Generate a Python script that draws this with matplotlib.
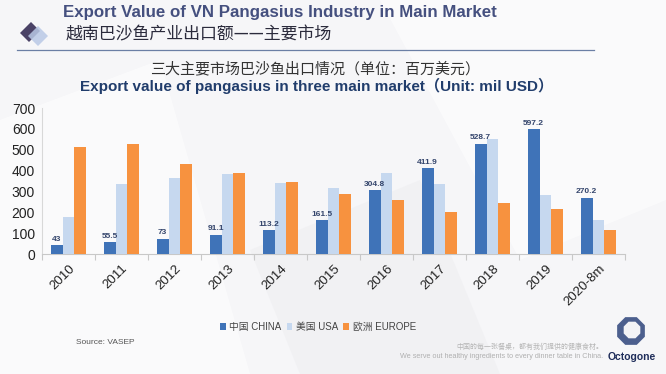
import matplotlib
matplotlib.use("Agg")
import matplotlib.pyplot as plt
import numpy as np
from matplotlib.patches import Polygon, RegularPolygon, Rectangle

plt.rcParams['font.family'] = ['Liberation Sans', 'Noto Sans CJK SC', 'DejaVu Sans']

categories = ['2010', '2011', '2012', '2013', '2014', '2015', '2016', '2017', '2018', '2019', '2020-8m']
china = [43, 55.5, 73, 91.1, 113.2, 161.5, 304.8, 411.9, 528.7, 597.2, 270.2]
usa = [179, 336, 364, 384, 340, 316, 388, 334, 550, 281, 165]
europe = [515, 529, 430, 390, 347, 287, 260, 203, 245, 214, 115]
china_labels = ['43', '55.5', '73', '91.1', '113.2', '161.5', '304.8', '411.9', '528.7', '597.2', '270.2']
yticks = [0, 100, 200, 300, 400, 500, 600, 700]
series_names = ['中国 CHINA', '美国 USA', '欧洲 EUROPE']
colors = ['#3f73b8', '#c6d8ef', '#f7923f']

W, H = 666, 374
fig = plt.figure(figsize=(W / 100, H / 100), dpi=100)
fig.patch.set_facecolor('#f6f6f8')

# faint background shapes
bg = fig.add_axes([0, 0, 1, 1], zorder=-10)
bg.set_xlim(0, W); bg.set_ylim(H, 0); bg.axis('off')
bg.add_patch(Polygon([[0, 120], [160, 60], [250, 374], [0, 374]], closed=True, color='white', alpha=0.55, lw=0))
bg.add_patch(Polygon([[380, 0], [666, 0], [666, 200], [520, 260]], closed=True, color='white', alpha=0.5, lw=0))
bg.add_patch(Polygon([[250, 250], [420, 180], [500, 374], [300, 374]], closed=True, color='#eeeef1', alpha=0.6, lw=0))

def fx(x):
    return x / W

def fy(y):
    return 1 - y / H

ax = fig.add_axes([fx(42), fy(254), fx(625) - fx(42), fy(108) - fy(254)])
ax.set_facecolor('none')

x = np.arange(len(categories))
w = 0.225
b1 = ax.bar(x - w, china, w, color=colors[0], label=series_names[0], zorder=3)
b2 = ax.bar(x, usa, w, color=colors[1], label=series_names[1], zorder=3)
b3 = ax.bar(x + w, europe, w, color=colors[2], label=series_names[2], zorder=3)

for xi, v, lab in zip(x, china, china_labels):
    ax.text(xi - w, v + 12, lab, ha='center', va='bottom', fontsize=6,
            color='#34456c', fontweight='bold')

ax.set_xlim(-0.5, len(categories) - 0.5)
ax.set_ylim(0, 700)
ax.set_yticks(yticks)
ax.set_yticklabels([str(t) for t in yticks], fontsize=10, color='#222222')
ax.set_xticks(x)
ax.set_xticklabels(categories, rotation=45, ha='right', rotation_mode='anchor', fontsize=9.5, color='#222222')
ax.tick_params(axis='x', which='major', length=0, pad=6)
ax.set_xticks(np.arange(-0.5, len(categories) + 0.5, 1), minor=True)
ax.tick_params(axis='x', which='minor', length=4, color='#c8c8c8', width=0.8)
ax.tick_params(axis='y', length=0, pad=5)
for s in ['top', 'right']:
    ax.spines[s].set_visible(False)
ax.spines['left'].set_color('#d8d8d8')
ax.spines['bottom'].set_color('#c8c8c8')
ax.spines['left'].set_linewidth(0.8)
ax.spines['bottom'].set_linewidth(0.8)

leg = fig.legend(handles=[b1, b2, b3], loc='center', bbox_to_anchor=(fx(318), fy(327)), ncol=3,
                 frameon=False, fontsize=7, handlelength=0.6, handleheight=0.6,
                 handletextpad=0.4, columnspacing=0.5, labelcolor='#444444')

# Header
fig.text(fx(63), fy(13), 'Export Value of VN Pangasius Industry in Main Market', fontsize=12.2,
         fontweight='bold', color='#45507f', ha='left', va='center')
fig.text(fx(66), fy(34), '越南巴沙鱼产业出口额——主要市场', fontsize=12.2,
         color='#2b2b3c', ha='left', va='center', family=['Noto Sans CJK SC', 'DejaVu Sans'])
bg.add_patch(Polygon([[20, 33], [31, 22], [40, 31], [29, 42]], closed=True, color='#4a4266', lw=0))
bg.add_patch(Polygon([[28, 36], [38, 26], [48, 36], [38, 46]], closed=True, color='#b9c9e6', alpha=0.85, lw=0))
bg.plot([17, 594], [50, 50], color='#6b7fa5', lw=0.9)

fig.text(fx(315), fy(69), '三大主要市场巴沙鱼出口情况（单位：百万美元）', fontsize=10.8,
         color='#333333', ha='center', va='center', family=['Noto Sans CJK SC', 'DejaVu Sans'])
fig.text(fx(317), fy(86), 'Export value of pangasius in three main market（Unit: mil USD）', fontsize=11,
         fontweight='bold', color='#213d6c', ha='center', va='center')

# Footer
fig.text(fx(76), fy(342), 'Source: VASEP', fontsize=6, color='#555555', ha='left', va='center')
fig.text(fx(603), fy(347), '中国的每一张餐桌，都有我们提供的健康食材。', fontsize=5, color='#b5b5b5',
         ha='right', va='center', family=['Noto Sans CJK SC', 'DejaVu Sans'])
fig.text(fx(603), fy(357), 'We serve out healthy ingredients to every dinner table in China.', fontsize=5.2,
         color='#b0b0b0', ha='right', va='center')
bg.add_patch(RegularPolygon((631, 331), numVertices=8, radius=15, orientation=np.pi / 8,
                            color='#4c5f8e', lw=0))
bg.add_patch(RegularPolygon((632, 330), numVertices=8, radius=9, orientation=np.pi / 8,
                            color='#f3f3f6', lw=0))
fig.text(fx(632), fy(357), 'Octogone', fontsize=7.5, fontweight='bold', color='#1f2d5a',
         ha='center', va='center')

fig.savefig('out.png', dpi=100, facecolor=fig.get_facecolor())
